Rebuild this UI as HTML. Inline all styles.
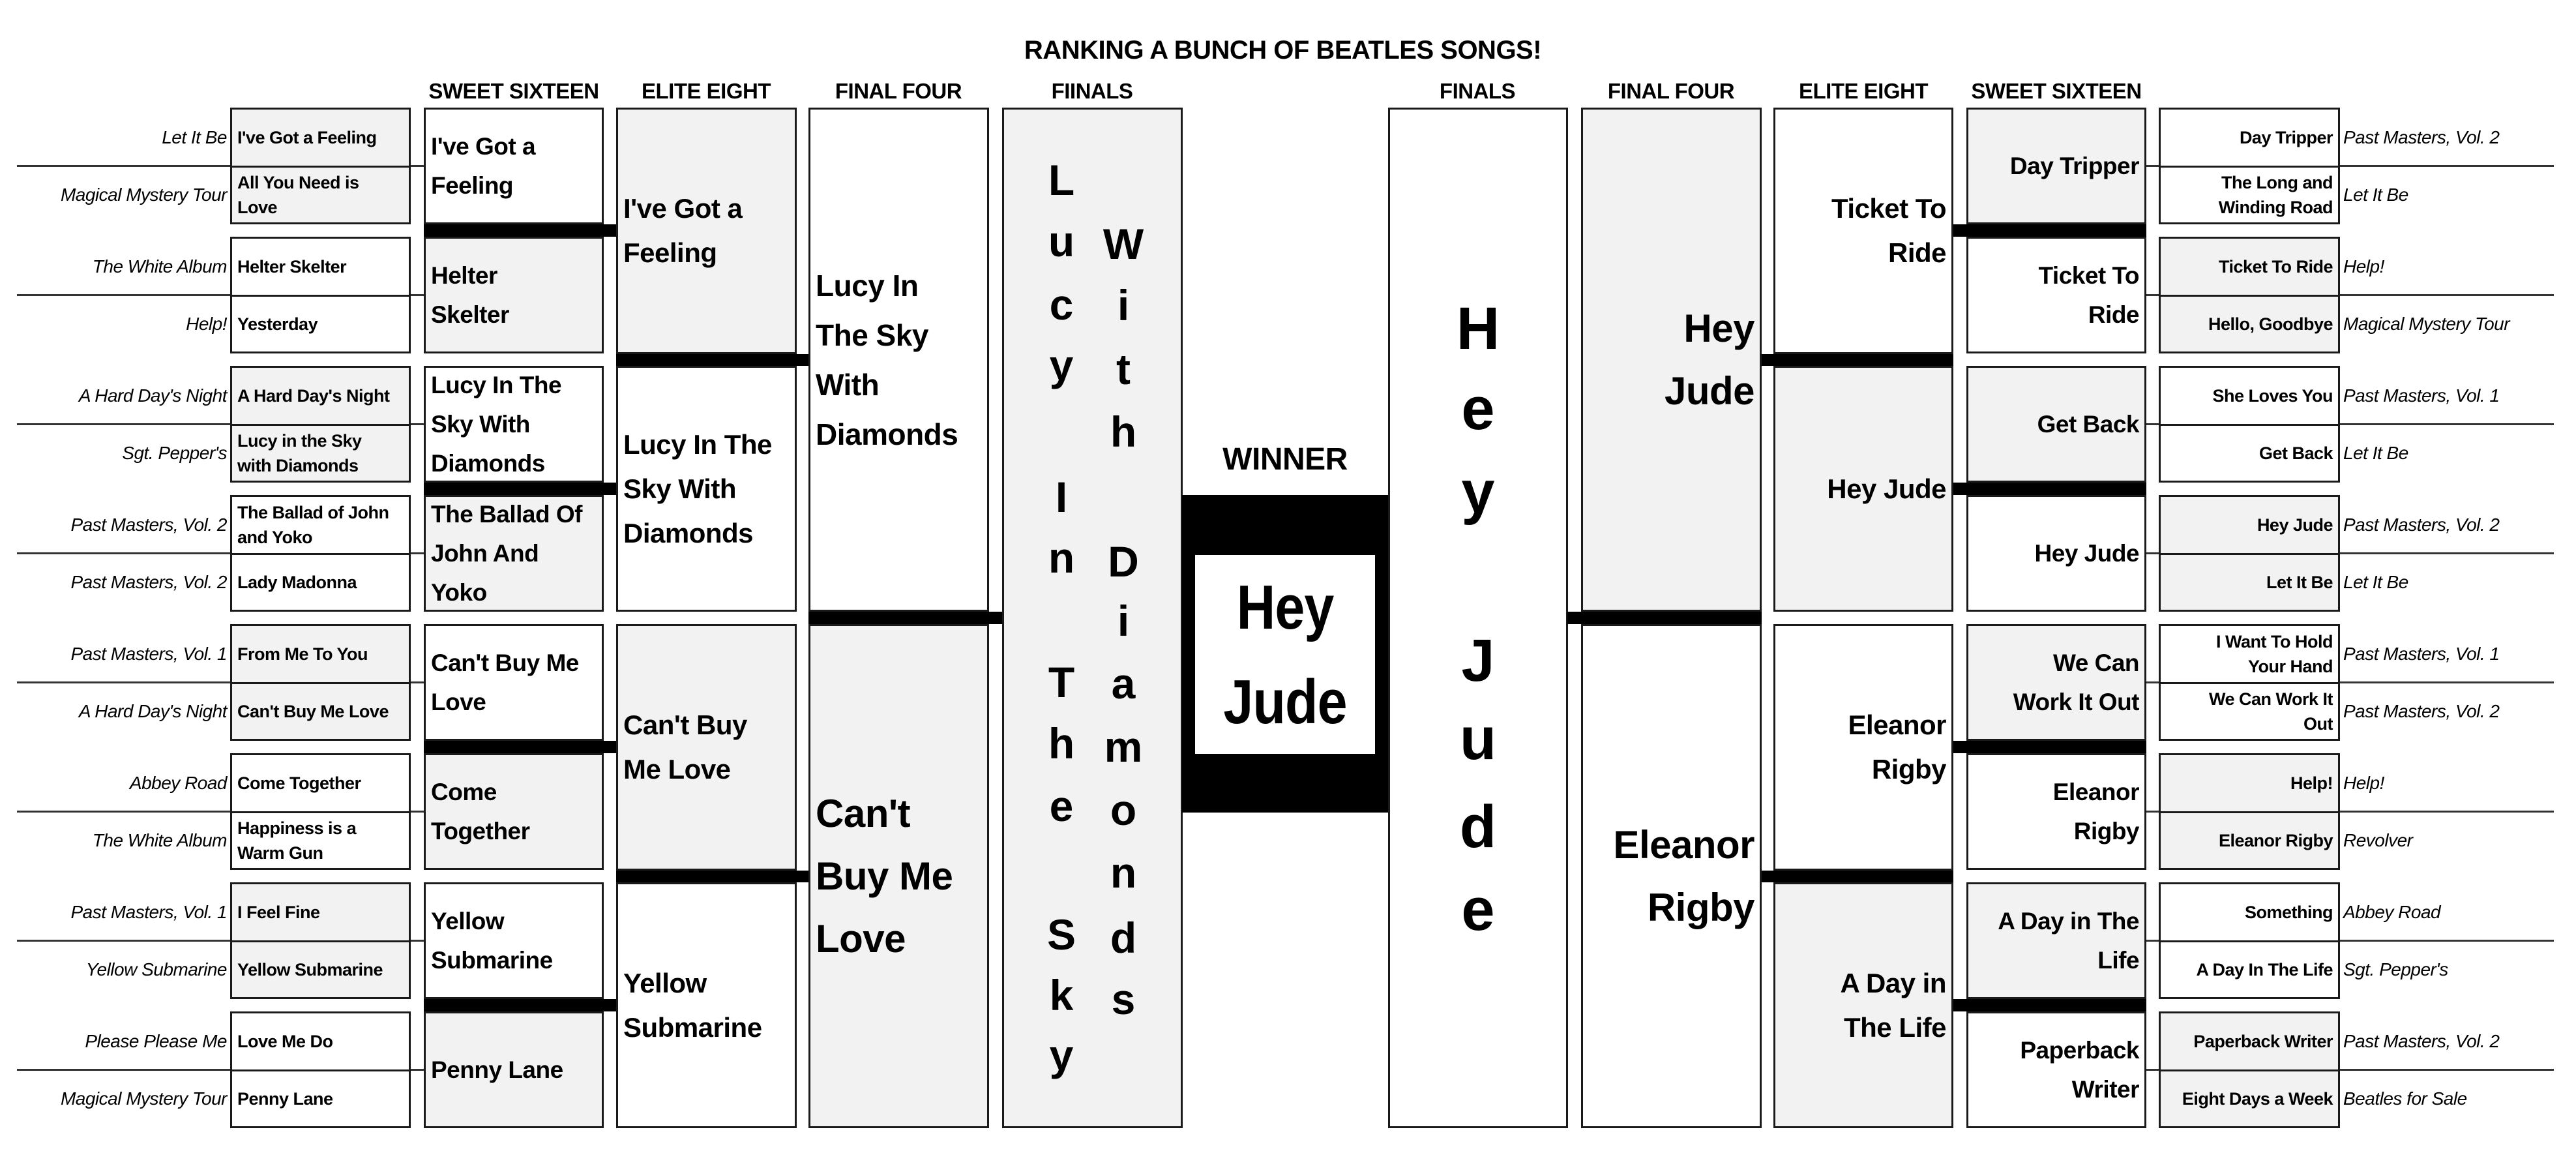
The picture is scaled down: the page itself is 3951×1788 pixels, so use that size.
<!DOCTYPE html>
<html><head><meta charset="utf-8"><style>
body{margin:0;width:3951px;height:1788px;position:relative;background:#fff;font-family:"Liberation Sans",sans-serif;font-weight:bold;color:#000;overflow:hidden}
.c{position:absolute;box-sizing:border-box;border:3px solid #1a1a1a;display:flex;align-items:center;white-space:nowrap;background:#fff}
.g{background:#f2f2f2}
.l{justify-content:flex-start;padding-left:8px;text-align:left}
.r{justify-content:flex-end;padding-right:8px;text-align:right}
.r1{font-size:27px;line-height:38px;letter-spacing:-0.5px}
.s{font-size:37px;line-height:60px;letter-spacing:-0.5px}
.e{font-size:42px;line-height:68px;letter-spacing:-0.5px}
.f4a{font-size:46px;line-height:76px;letter-spacing:-0.5px}
.f4b{font-size:60px;line-height:96px;letter-spacing:-0.5px}
.al{position:absolute;font-style:italic;font-weight:normal;font-size:28px;white-space:nowrap;display:flex;align-items:center;letter-spacing:-0.5px}
.all{left:0;width:348px;justify-content:flex-end}
.alr{left:3594px;width:357px;justify-content:flex-start}
.bar{position:absolute;background:#000}
.hl{position:absolute;height:3px;background:#333}
.hd{position:absolute;font-size:33px;text-align:center;top:120px;width:320px;line-height:40px;letter-spacing:-0.5px}
.v{position:absolute;width:100px;text-align:center;height:100px;line-height:100px;font-size:66px}
.w{position:absolute;width:130px;text-align:center;height:130px;line-height:130px;font-size:92px}
</style></head><body>

<div style="position:absolute;left:0;width:3951px;top:52px;text-align:center;font-size:40px;line-height:50px;letter-spacing:-0.5px;transform:translateX(-8px)">RANKING A BUNCH OF BEATLES SONGS!</div>

<div class="hd" style="left:628px">SWEET SIXTEEN</div>
<div class="hd" style="left:923px">ELITE EIGHT</div>
<div class="hd" style="left:1218px">FINAL FOUR</div>
<div class="hd" style="left:1515px">FIINALS</div>
<div class="hd" style="left:2106px">FINALS</div>
<div class="hd" style="left:2403px">FINAL FOUR</div>
<div class="hd" style="left:2698px">ELITE EIGHT</div>
<div class="hd" style="left:2994px">SWEET SIXTEEN</div>

<!-- left connector lines -->
<div class="hl" style="left:26px;width:624px;top:253px"></div>
<div class="hl" style="left:26px;width:624px;top:451px"></div>
<div class="hl" style="left:26px;width:624px;top:649px"></div>
<div class="hl" style="left:26px;width:624px;top:847px"></div>
<div class="hl" style="left:26px;width:624px;top:1045px"></div>
<div class="hl" style="left:26px;width:624px;top:1243px"></div>
<div class="hl" style="left:26px;width:624px;top:1441px"></div>
<div class="hl" style="left:26px;width:624px;top:1639px"></div>
<!-- right connector lines -->
<div class="hl" style="left:3292px;width:625px;top:253px"></div>
<div class="hl" style="left:3292px;width:625px;top:451px"></div>
<div class="hl" style="left:3292px;width:625px;top:649px"></div>
<div class="hl" style="left:3292px;width:625px;top:847px"></div>
<div class="hl" style="left:3292px;width:625px;top:1045px"></div>
<div class="hl" style="left:3292px;width:625px;top:1243px"></div>
<div class="hl" style="left:3292px;width:625px;top:1441px"></div>
<div class="hl" style="left:3292px;width:625px;top:1639px"></div>

<!-- LEFT R1 -->
<div class="al all" style="top:165px;height:92px">Let It Be</div>
<div class="c g l r1" style="left:353px;width:277px;top:165px;height:92px">I've Got a Feeling</div>
<div class="al all" style="top:254px;height:90px">Magical Mystery Tour</div>
<div class="c g l r1" style="left:353px;width:277px;top:254px;height:90px">All You Need is<br>Love</div>

<div class="al all" style="top:363px;height:92px">The White Album</div>
<div class="c l r1" style="left:353px;width:277px;top:363px;height:92px">Helter Skelter</div>
<div class="al all" style="top:452px;height:90px">Help!</div>
<div class="c l r1" style="left:353px;width:277px;top:452px;height:90px">Yesterday</div>

<div class="al all" style="top:561px;height:92px">A Hard Day's Night</div>
<div class="c g l r1" style="left:353px;width:277px;top:561px;height:92px">A Hard Day's Night</div>
<div class="al all" style="top:650px;height:90px">Sgt. Pepper's</div>
<div class="c g l r1" style="left:353px;width:277px;top:650px;height:90px">Lucy in the Sky<br>with Diamonds</div>

<div class="al all" style="top:759px;height:92px">Past Masters, Vol. 2</div>
<div class="c l r1" style="left:353px;width:277px;top:759px;height:92px">The Ballad of John<br>and Yoko</div>
<div class="al all" style="top:848px;height:90px">Past Masters, Vol. 2</div>
<div class="c l r1" style="left:353px;width:277px;top:848px;height:90px">Lady Madonna</div>

<div class="al all" style="top:957px;height:92px">Past Masters, Vol. 1</div>
<div class="c g l r1" style="left:353px;width:277px;top:957px;height:92px">From Me To You</div>
<div class="al all" style="top:1046px;height:90px">A Hard Day's Night</div>
<div class="c g l r1" style="left:353px;width:277px;top:1046px;height:90px">Can't Buy Me Love</div>

<div class="al all" style="top:1155px;height:92px">Abbey Road</div>
<div class="c l r1" style="left:353px;width:277px;top:1155px;height:92px">Come Together</div>
<div class="al all" style="top:1244px;height:90px">The White Album</div>
<div class="c l r1" style="left:353px;width:277px;top:1244px;height:90px">Happiness is a<br>Warm Gun</div>

<div class="al all" style="top:1353px;height:92px">Past Masters, Vol. 1</div>
<div class="c g l r1" style="left:353px;width:277px;top:1353px;height:92px">I Feel Fine</div>
<div class="al all" style="top:1442px;height:90px">Yellow Submarine</div>
<div class="c g l r1" style="left:353px;width:277px;top:1442px;height:90px">Yellow Submarine</div>

<div class="al all" style="top:1551px;height:92px">Please Please Me</div>
<div class="c l r1" style="left:353px;width:277px;top:1551px;height:92px">Love Me Do</div>
<div class="al all" style="top:1640px;height:90px">Magical Mystery Tour</div>
<div class="c l r1" style="left:353px;width:277px;top:1640px;height:90px">Penny Lane</div>

<!-- LEFT S16 -->
<div class="c l s" style="left:650px;width:276px;top:165px;height:179px">I've Got a<br>Feeling</div>
<div class="c g l s" style="left:650px;width:276px;top:363px;height:179px">Helter<br>Skelter</div>
<div class="c l s" style="left:650px;width:276px;top:561px;height:179px">Lucy In The<br>Sky With<br>Diamonds</div>
<div class="c g l s" style="left:650px;width:276px;top:759px;height:179px">The Ballad Of<br>John And<br>Yoko</div>
<div class="c l s" style="left:650px;width:276px;top:957px;height:179px">Can't Buy Me<br>Love</div>
<div class="c g l s" style="left:650px;width:276px;top:1155px;height:179px">Come<br>Together</div>
<div class="c l s" style="left:650px;width:276px;top:1353px;height:179px">Yellow<br>Submarine</div>
<div class="c g l s" style="left:650px;width:276px;top:1551px;height:179px">Penny Lane</div>
<div class="bar" style="left:650px;width:295px;top:344px;height:19px"></div>
<div class="bar" style="left:650px;width:295px;top:740px;height:19px"></div>
<div class="bar" style="left:650px;width:295px;top:1136px;height:19px"></div>
<div class="bar" style="left:650px;width:295px;top:1532px;height:19px"></div>

<!-- LEFT E8 -->
<div class="c g l e" style="left:945px;width:277px;top:165px;height:378px">I've Got a<br>Feeling</div>
<div class="c l e" style="left:945px;width:277px;top:561px;height:377px">Lucy In The<br>Sky With<br>Diamonds</div>
<div class="c g l e" style="left:945px;width:277px;top:957px;height:378px">Can't Buy<br>Me Love</div>
<div class="c l e" style="left:945px;width:277px;top:1353px;height:377px">Yellow<br>Submarine</div>
<div class="bar" style="left:945px;width:295px;top:543px;height:18px"></div>
<div class="bar" style="left:945px;width:295px;top:1335px;height:18px"></div>

<!-- LEFT F4 -->
<div class="c l f4a" style="left:1240px;width:277px;top:165px;height:773px">Lucy In<br>The Sky<br>With<br>Diamonds</div>
<div class="c g l f4b" style="left:1240px;width:277px;top:957px;height:773px">Can't<br>Buy Me<br>Love</div>
<div class="bar" style="left:1240px;width:297px;top:938px;height:19px"></div>

<!-- LEFT FINALS -->
<div class="c g" style="left:1537px;width:277px;top:165px;height:1565px"></div>
<div class="v" style="left:1578px;top:226px">L</div>
<div class="v" style="left:1578px;top:320px">u</div>
<div class="v" style="left:1578px;top:417px">c</div>
<div class="v" style="left:1578px;top:510px">y</div>
<div class="v" style="left:1578px;top:712px">I</div>
<div class="v" style="left:1578px;top:805px">n</div>
<div class="v" style="left:1578px;top:996px">T</div>
<div class="v" style="left:1578px;top:1090px">h</div>
<div class="v" style="left:1578px;top:1186px">e</div>
<div class="v" style="left:1578px;top:1383px">S</div>
<div class="v" style="left:1578px;top:1476px">k</div>
<div class="v" style="left:1578px;top:1568px">y</div>
<div class="v" style="left:1673px;top:324px">W</div>
<div class="v" style="left:1673px;top:418px">i</div>
<div class="v" style="left:1673px;top:516px">t</div>
<div class="v" style="left:1673px;top:612px">h</div>
<div class="v" style="left:1673px;top:811px">D</div>
<div class="v" style="left:1673px;top:902px">i</div>
<div class="v" style="left:1673px;top:998px">a</div>
<div class="v" style="left:1673px;top:1095px">m</div>
<div class="v" style="left:1673px;top:1192px">o</div>
<div class="v" style="left:1673px;top:1288px">n</div>
<div class="v" style="left:1673px;top:1388px">d</div>
<div class="v" style="left:1673px;top:1482px">s</div>

<!-- WINNER -->
<div style="position:absolute;left:1813px;width:316px;top:675px;line-height:60px;text-align:center;font-size:48px;letter-spacing:-0.5px">WINNER</div>
<div class="bar" style="left:1813px;width:316px;top:759px;height:487px"></div>
<div style="position:absolute;left:1833px;width:276px;top:851px;height:305px;background:#fff;display:flex;align-items:center;justify-content:center;text-align:center">
<span style="display:inline-block;font-size:96px;line-height:145px;transform:scaleX(0.86);letter-spacing:-1px">Hey<br>Jude</span></div>

<!-- RIGHT FINALS -->
<div class="c" style="left:2129px;width:276px;top:165px;height:1565px"></div>
<div class="w" style="left:2202px;top:439px">H</div>
<div class="w" style="left:2202px;top:562px">e</div>
<div class="w" style="left:2202px;top:690px">y</div>
<div class="w" style="left:2202px;top:948px">J</div>
<div class="w" style="left:2202px;top:1068px">u</div>
<div class="w" style="left:2202px;top:1203px">d</div>
<div class="w" style="left:2202px;top:1330px">e</div>

<!-- RIGHT F4 -->
<div class="c g r f4b" style="left:2425px;width:277px;top:165px;height:773px">Hey<br>Jude</div>
<div class="c r f4b" style="left:2425px;width:277px;top:957px;height:773px">Eleanor<br>Rigby</div>
<div class="bar" style="left:2404px;width:298px;top:938px;height:19px"></div>

<!-- RIGHT E8 -->
<div class="c r e" style="left:2720px;width:276px;top:165px;height:378px">Ticket To<br>Ride</div>
<div class="c g r e" style="left:2720px;width:276px;top:561px;height:377px">Hey Jude</div>
<div class="c r e" style="left:2720px;width:276px;top:957px;height:378px">Eleanor<br>Rigby</div>
<div class="c g r e" style="left:2720px;width:276px;top:1353px;height:377px">A Day in<br>The Life</div>
<div class="bar" style="left:2702px;width:294px;top:543px;height:18px"></div>
<div class="bar" style="left:2702px;width:294px;top:1335px;height:18px"></div>

<!-- RIGHT S16 -->
<div class="c g r s" style="left:3016px;width:276px;top:165px;height:179px">Day Tripper</div>
<div class="c r s" style="left:3016px;width:276px;top:363px;height:179px">Ticket To<br>Ride</div>
<div class="c g r s" style="left:3016px;width:276px;top:561px;height:179px">Get Back</div>
<div class="c r s" style="left:3016px;width:276px;top:759px;height:179px">Hey Jude</div>
<div class="c g r s" style="left:3016px;width:276px;top:957px;height:179px">We Can<br>Work It Out</div>
<div class="c r s" style="left:3016px;width:276px;top:1155px;height:179px">Eleanor<br>Rigby</div>
<div class="c g r s" style="left:3016px;width:276px;top:1353px;height:179px">A Day in The<br>Life</div>
<div class="c r s" style="left:3016px;width:276px;top:1551px;height:179px">Paperback<br>Writer</div>
<div class="bar" style="left:2996px;width:296px;top:344px;height:19px"></div>
<div class="bar" style="left:2996px;width:296px;top:740px;height:19px"></div>
<div class="bar" style="left:2996px;width:296px;top:1136px;height:19px"></div>
<div class="bar" style="left:2996px;width:296px;top:1532px;height:19px"></div>

<!-- RIGHT R1 -->
<div class="c r r1" style="left:3311px;width:278px;top:165px;height:92px">Day Tripper</div>
<div class="al alr" style="top:165px;height:92px">Past Masters, Vol. 2</div>
<div class="c r r1" style="left:3311px;width:278px;top:254px;height:90px">The Long and<br>Winding Road</div>
<div class="al alr" style="top:254px;height:90px">Let It Be</div>

<div class="c g r r1" style="left:3311px;width:278px;top:363px;height:92px">Ticket To Ride</div>
<div class="al alr" style="top:363px;height:92px">Help!</div>
<div class="c g r r1" style="left:3311px;width:278px;top:452px;height:90px">Hello, Goodbye</div>
<div class="al alr" style="top:452px;height:90px">Magical Mystery Tour</div>

<div class="c r r1" style="left:3311px;width:278px;top:561px;height:92px">She Loves You</div>
<div class="al alr" style="top:561px;height:92px">Past Masters, Vol. 1</div>
<div class="c r r1" style="left:3311px;width:278px;top:650px;height:90px">Get Back</div>
<div class="al alr" style="top:650px;height:90px">Let It Be</div>

<div class="c g r r1" style="left:3311px;width:278px;top:759px;height:92px">Hey Jude</div>
<div class="al alr" style="top:759px;height:92px">Past Masters, Vol. 2</div>
<div class="c g r r1" style="left:3311px;width:278px;top:848px;height:90px">Let It Be</div>
<div class="al alr" style="top:848px;height:90px">Let It Be</div>

<div class="c r r1" style="left:3311px;width:278px;top:957px;height:92px">I Want To Hold<br>Your Hand</div>
<div class="al alr" style="top:957px;height:92px">Past Masters, Vol. 1</div>
<div class="c r r1" style="left:3311px;width:278px;top:1046px;height:90px">We Can Work It<br>Out</div>
<div class="al alr" style="top:1046px;height:90px">Past Masters, Vol. 2</div>

<div class="c g r r1" style="left:3311px;width:278px;top:1155px;height:92px">Help!</div>
<div class="al alr" style="top:1155px;height:92px">Help!</div>
<div class="c g r r1" style="left:3311px;width:278px;top:1244px;height:90px">Eleanor Rigby</div>
<div class="al alr" style="top:1244px;height:90px">Revolver</div>

<div class="c r r1" style="left:3311px;width:278px;top:1353px;height:92px">Something</div>
<div class="al alr" style="top:1353px;height:92px">Abbey Road</div>
<div class="c r r1" style="left:3311px;width:278px;top:1442px;height:90px">A Day In The Life</div>
<div class="al alr" style="top:1442px;height:90px">Sgt. Pepper's</div>

<div class="c g r r1" style="left:3311px;width:278px;top:1551px;height:92px">Paperback Writer</div>
<div class="al alr" style="top:1551px;height:92px">Past Masters, Vol. 2</div>
<div class="c g r r1" style="left:3311px;width:278px;top:1640px;height:90px">Eight Days a Week</div>
<div class="al alr" style="top:1640px;height:90px">Beatles for Sale</div>

</body></html>
